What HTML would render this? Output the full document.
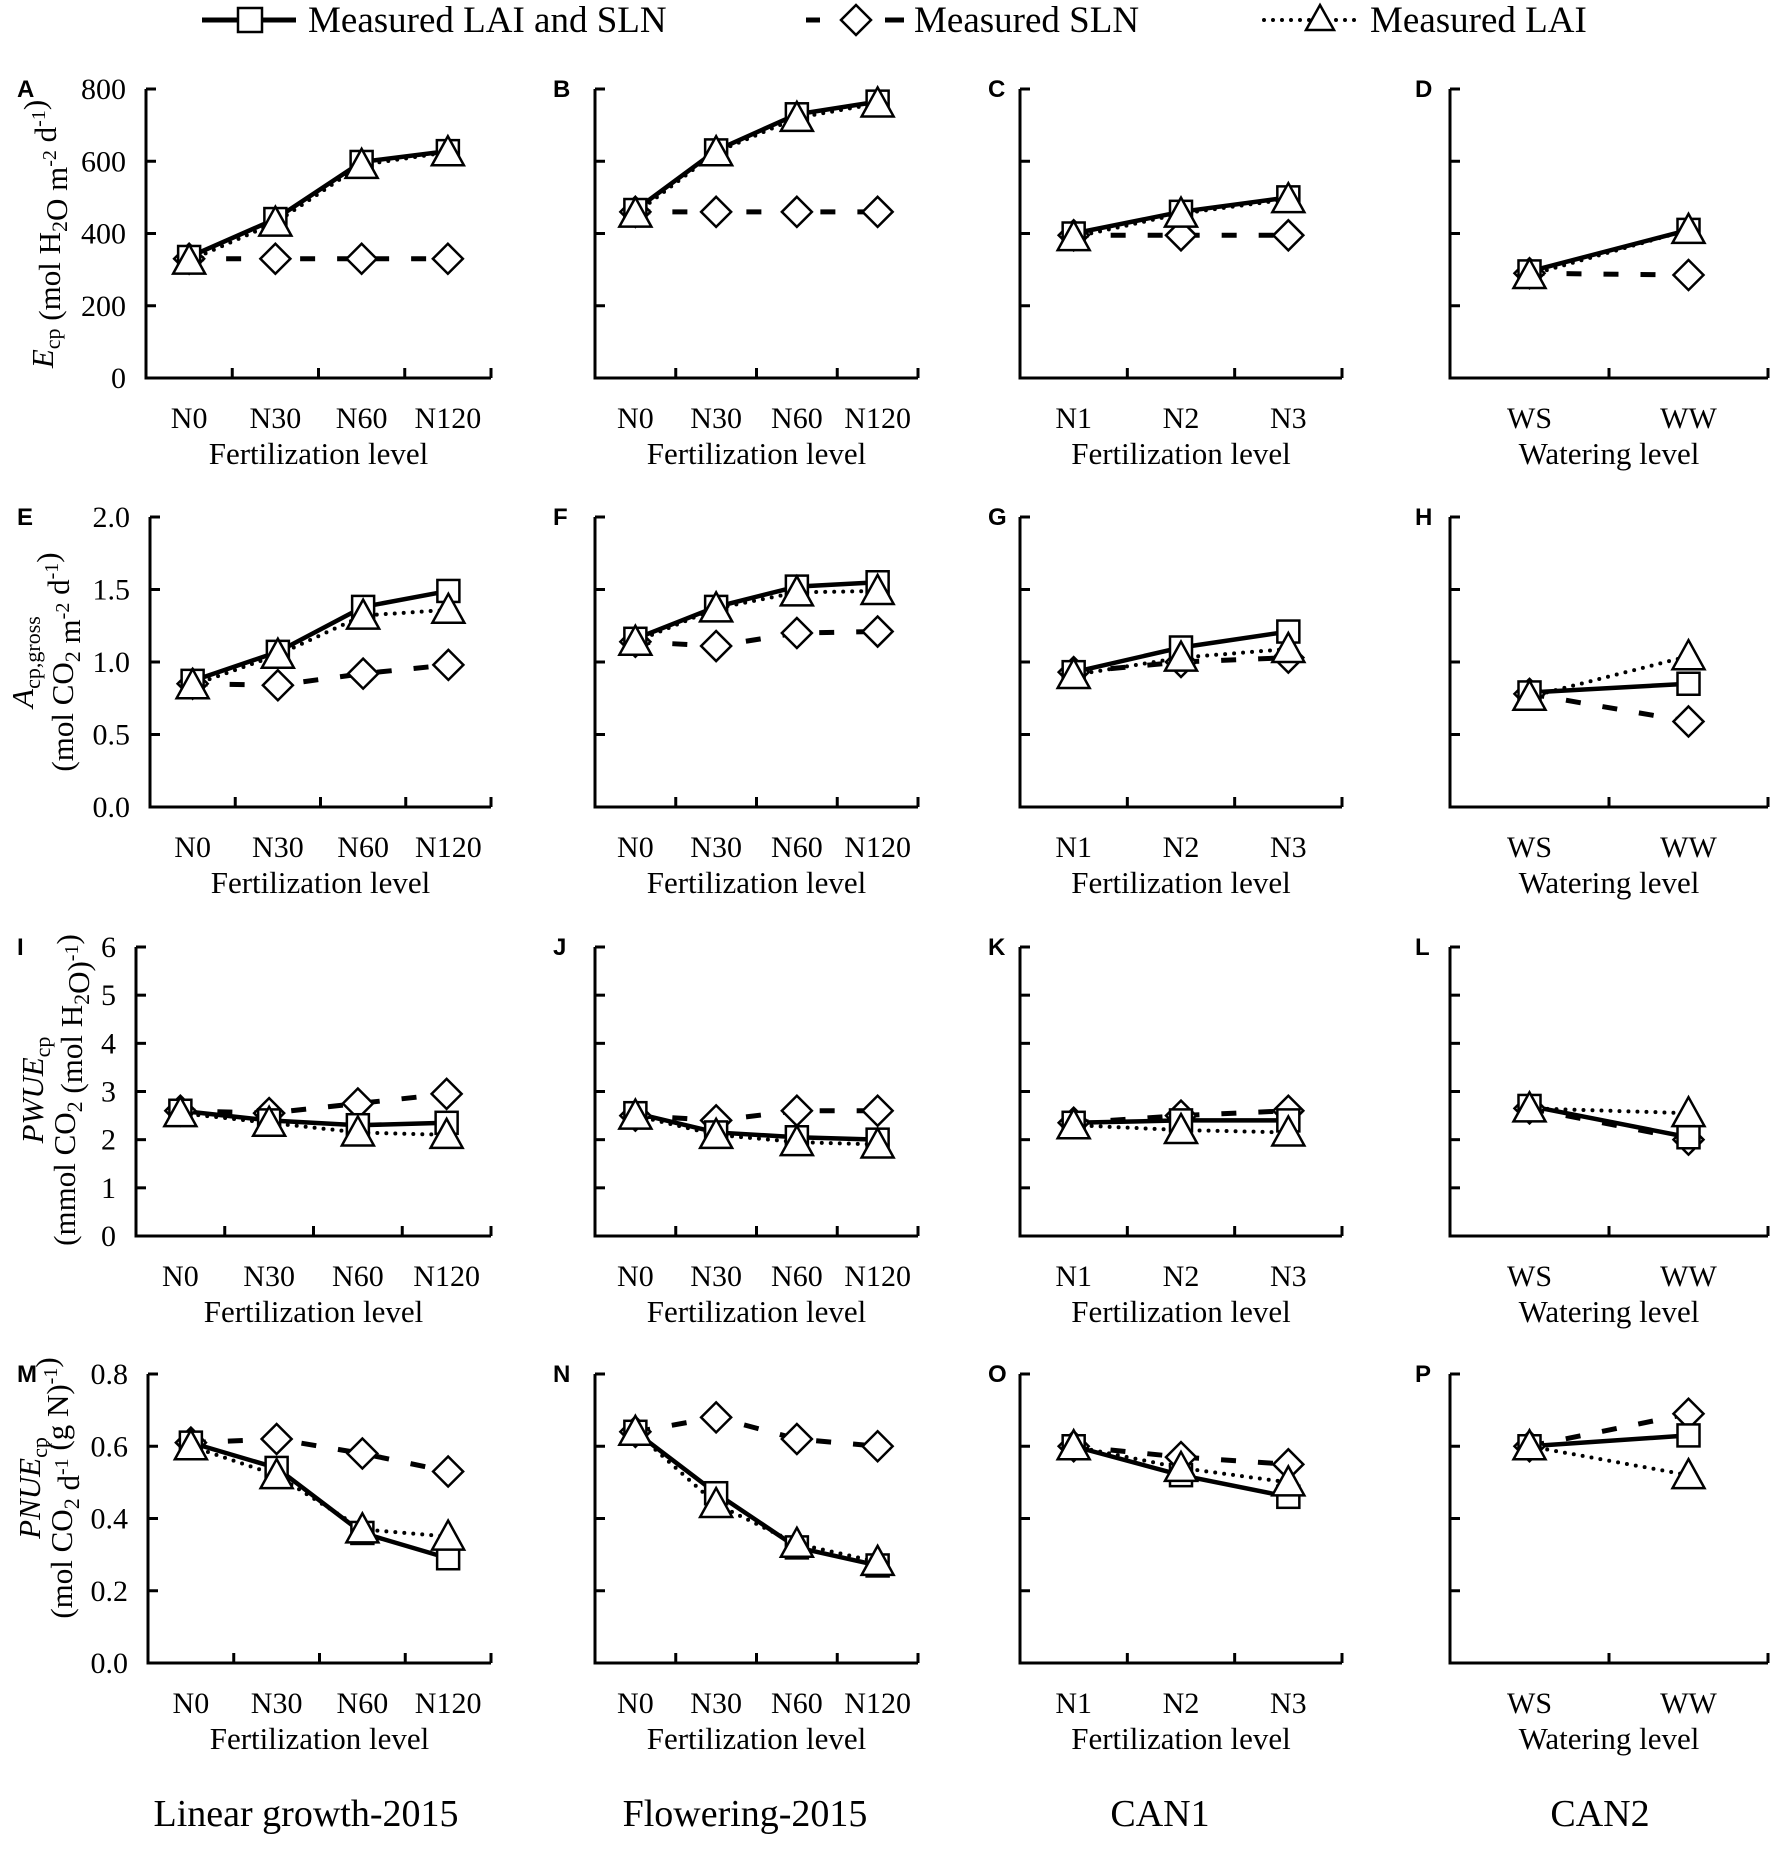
<!DOCTYPE html>
<html><head><meta charset="utf-8"><style>
html,body{margin:0;padding:0;background:#fff;}
svg{display:block;font-family:"Liberation Serif",serif;}
.pl{font-family:"Liberation Sans",sans-serif;font-weight:bold;font-size:24px;}
</style></head><body>
<svg id="fig" width="1772" height="1851" viewBox="0 0 1772 1851" xmlns="http://www.w3.org/2000/svg">
<g id="legend">
  <g>
    <line x1="202" y1="20" x2="296" y2="20" stroke="#000" stroke-width="5"/>
    <rect x="238" y="8" width="24" height="24" fill="#fff" stroke="#000" stroke-width="2.5"/>
    <text x="308" y="32" font-size="37">Measured LAI and SLN</text>
  </g>
  <g>
    <line x1="806" y1="20" x2="820" y2="20" stroke="#000" stroke-width="5"/>
    <line x1="885" y1="20" x2="904" y2="20" stroke="#000" stroke-width="5"/>
    <polygon points="856,5 871,20 856,35 841,20" fill="#fff" stroke="#000" stroke-width="2.5"/>
    <text x="914" y="32" font-size="37">Measured SLN</text>
  </g>
  <g>
    <line x1="1264" y1="20" x2="1360" y2="20" stroke="#000" stroke-width="4" stroke-dasharray="0,9" stroke-linecap="round"/>
    <polygon points="1320,5 1334,30 1306,30" fill="#fff" stroke="#000" stroke-width="2.5"/>
    <text x="1370" y="32" font-size="37">Measured LAI</text>
  </g>
</g>
<g id="panels"></g>
<g>
  <text x="306" y="1826" font-size="38" text-anchor="middle">Linear growth-2015</text>
  <text x="745" y="1826" font-size="38" text-anchor="middle">Flowering-2015</text>
  <text x="1160" y="1826" font-size="38" text-anchor="middle">CAN1</text>
  <text x="1600" y="1826" font-size="38" text-anchor="middle">CAN2</text>
</g>
</svg>
<script>
// ---- data ----
const catsFert4 = ["N0","N30","N60","N120"];
const catsFert3 = ["N1","N2","N3"];
const catsWater = ["WS","WW"];
const rowMax = [800, 2.0, 6, 0.8];
const rowTickLabels0 = ["0","200","400","600","800"];
const rowTickLabels1 = ["0.0","0.5","1.0","1.5","2.0"];
const rowTickLabels2 = ["0","1","2","3","4","5","6"];
const rowTickLabels3 = ["0.0","0.2","0.4","0.6","0.8"];
// Measured LAI and SLN (squares)
const sqA = [335,440,598,628], sqB = [465,630,730,765], sqC = [400,460,500], sqD = [295,410];
const sqE = [0.87,1.07,1.38,1.49], sqF = [1.16,1.38,1.52,1.55], sqG = [0.93,1.10,1.21], sqH = [0.79,0.85];
const sqI = [2.6,2.4,2.3,2.35], sqJ = [2.55,2.15,2.05,2.0], sqK = [2.35,2.4,2.4], sqL = [2.7,2.05];
const sqM = [0.61,0.54,0.36,0.29], sqN = [0.64,0.47,0.32,0.27], sqO = [0.60,0.52,0.46], sqP = [0.60,0.63];
// Measured SLN (diamonds)
const diA = [330,330,330,330], diB = [460,460,460,460], diC = [395,395,395], diD = [290,285];
const diE = [0.85,0.84,0.92,0.98], diF = [1.14,1.11,1.20,1.21], diG = [0.93,1.00,1.03], diH = [0.78,0.59];
const diI = [2.6,2.55,2.75,2.95], diJ = [2.5,2.4,2.6,2.6], diK = [2.35,2.5,2.6], diL = [2.65,2.0];
const diM = [0.61,0.62,0.58,0.53], diN = [0.64,0.68,0.62,0.60], diO = [0.60,0.57,0.55], diP = [0.60,0.69];
// Measured LAI (triangles)
const trA = [325,430,590,625], trB = [455,625,720,760], trC = [390,455,495], trD = [285,410];
const trE = [0.84,1.05,1.32,1.36], trF = [1.14,1.37,1.48,1.49], trG = [0.91,1.03,1.09], trH = [0.76,1.04];
const trI = [2.55,2.35,2.15,2.1], trJ = [2.5,2.1,1.95,1.9], trK = [2.3,2.2,2.15], trL = [2.65,2.55];
const trM = [0.60,0.52,0.37,0.35], trN = [0.64,0.44,0.33,0.28], trO = [0.60,0.54,0.50], trP = [0.60,0.52];

const NS="http://www.w3.org/2000/svg";
const root=document.getElementById('panels');
function mk(tag,attrs,parent){const e=document.createElementNS(NS,tag);for(const k in attrs)e.setAttribute(k,attrs[k]);(parent||root).appendChild(e);return e;}

const rowTop=[89,517,947,1374], rowBot=[378,807,1236,1663];
const col1Left=[146,150,136,148];
const colLeft=[null,595,1020,1450], colRight=[491,918,1342,1768];
const tickLabels=[rowTickLabels0,rowTickLabels1,rowTickLabels2,rowTickLabels3];
const letters="ABCDEFGHIJKLMNOP";
const letterX=[17,553,988,1415];
const sqs=[sqA,sqB,sqC,sqD,sqE,sqF,sqG,sqH,sqI,sqJ,sqK,sqL,sqM,sqN,sqO,sqP];
const dis=[diA,diB,diC,diD,diE,diF,diG,diH,diI,diJ,diK,diL,diM,diN,diO,diP];
const trs=[trA,trB,trC,trD,trE,trF,trG,trH,trI,trJ,trK,trL,trM,trN,trO,trP];
const colCats=[catsFert4,catsFert4,catsFert3,catsWater];
const colTitle=["Fertilization level","Fertilization level","Fertilization level","Watering level"];

for(let r=0;r<4;r++){for(let c=0;c<4;c++){
  const idx=r*4+c;
  const g=mk('g',{});
  
  
  const x0=c===0?col1Left[r]:colLeft[c], x1=colRight[c], y0=rowTop[r], y1=rowBot[r];
  const cats=colCats[c], n=cats.length;
  const xs=i=>x0+(x1-x0)*(i+0.5)/n;
  const ys=v=>y1-(y1-y0)*v/rowMax[r];
  const lt=mk('text',{x:letterX[c],y:y0+8,'class':'pl'},g);lt.textContent=letters[idx];
  
  
  const ax=mk('path',{d:`M${x0},${y0} V${y1} H${x1}`,fill:'none',stroke:'#000','stroke-width':3},g);
  
  
  const tl=tickLabels[r];
  for(let k=0;k<tl.length;k++){
    const v=rowMax[r]*k/(tl.length-1), y=ys(v);
    mk('line',{x1:x0,x2:x0+10,y1:y,y2:y,stroke:'#000','stroke-width':3},g);
    if(c===0){const t=mk('text',{x:x0-20,y:y+10,'font-size':30,'text-anchor':'end'},g);t.textContent=tl[k];
      
      }
  }
  for(let k=1;k<=n;k++){const x=x0+(x1-x0)*k/n;mk('line',{x1:x,x2:x,y1:y1,y2:y1-10,stroke:'#000','stroke-width':3},g);}
  for(let i=0;i<n;i++){const t=mk('text',{x:xs(i),y:y1+50,'font-size':30,'text-anchor':'middle'},g);t.textContent=cats[i];
    
    }
  const xt=mk('text',{x:(x0+x1)/2,y:y1+86,'font-size':31,'text-anchor':'middle'},g);xt.textContent=colTitle[c];
  
  
  const pts=a=>a.map((v,i)=>xs(i)+','+ys(v)).join(' ');
  const l1=mk('polyline',{points:pts(dis[idx]),fill:'none',stroke:'#000','stroke-width':5,'stroke-dasharray':'15,22'},g);
  
  
  const l2=mk('polyline',{points:pts(trs[idx]),fill:'none',stroke:'#000','stroke-width':4,'stroke-dasharray':'0,9','stroke-linecap':'round'},g);
  
  
  const l3=mk('polyline',{points:pts(sqs[idx]),fill:'none',stroke:'#000','stroke-width':4.5},g);
  
  
  dis[idx].forEach((v,i)=>{const x=xs(i),y=ys(v);const m=mk('polygon',{points:`${x},${y-15} ${x+15},${y} ${x},${y+15} ${x-15},${y}`,fill:'#fff',stroke:'#000','stroke-width':2.5},g);
    
    });
  sqs[idx].forEach((v,i)=>{const x=xs(i),y=ys(v);const m=mk('rect',{x:x-11,y:y-11,width:22,height:22,fill:'#fff',stroke:'#000','stroke-width':2.5},g);
    
    });
  trs[idx].forEach((v,i)=>{const x=xs(i),y=ys(v);const m=mk('polygon',{points:`${x},${y-16} ${x+16},${y+13} ${x-16},${y+13}`,fill:'#fff',stroke:'#000','stroke-width':2.5},g);
    
    });
}}
function ytitle(x,y,html,name){const t=mk('text',{x:x,y:y,'font-size':31,'text-anchor':'middle',transform:`rotate(-90 ${x} ${y})`});t.innerHTML=html;
  
  }
const sub=s=>`<tspan font-size="22" dy="7">${s}</tspan><tspan dy="-7"></tspan>`;
const sup=s=>`<tspan font-size="20" dy="-11">${s}</tspan><tspan dy="11"></tspan>`;
ytitle(53,234,`<tspan font-style="italic">E</tspan>${sub('cp')} (mol H${sub('2')}O m${sup('-2')} d${sup('-1')})`,'y-axis-title-ecp');
ytitle(33,662,`<tspan font-style="italic">A</tspan>${sub('cp,gross')}`,'y-axis-title-acp');
ytitle(73,662,`(mol CO${sub('2')} m${sup('-2')} d${sup('-1')})`,'y-axis-title-acp-unit');
ytitle(43,1090,`<tspan font-style="italic">PWUE</tspan>${sub('cp')}`,'y-axis-title-pwue');
ytitle(75,1090,`(mmol CO${sub('2')} (mol H${sub('2')}O)${sup('-1')})`,'y-axis-title-pwue-unit');
ytitle(40,1488,`<tspan font-style="italic">PNUE</tspan>${sub('cp')}`,'y-axis-title-pnue');
ytitle(72,1488,`(mol CO${sub('2')} d${sup('-1')} (g N)${sup('-1')})`,'y-axis-title-pnue-unit');
</script>
</body></html>
